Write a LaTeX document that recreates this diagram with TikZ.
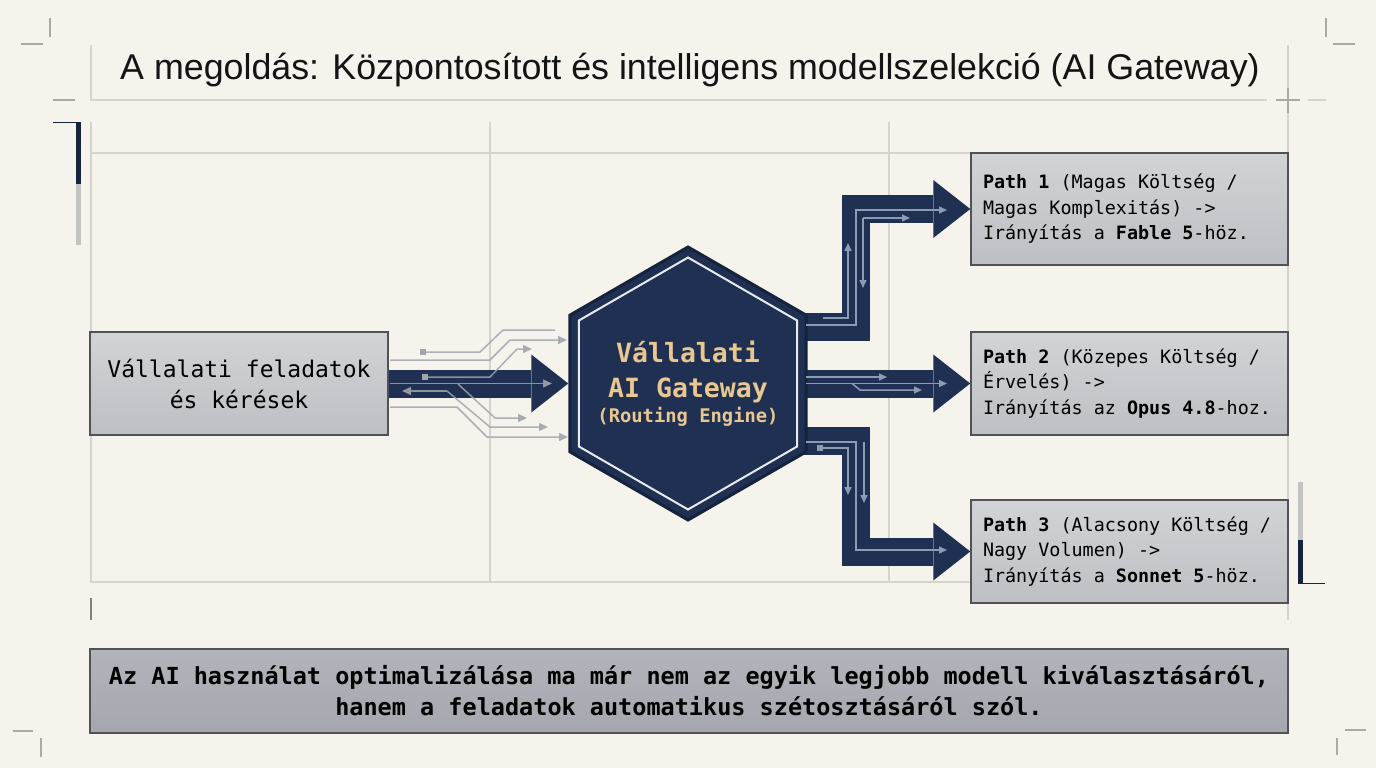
\documentclass[tikz,border=0pt]{standalone}
\usepackage{fontspec}
\setmainfont{Liberation Sans}
\setmonofont{DejaVu Sans Mono}
\usetikzlibrary{arrows.meta,shapes.geometric,calc}
\definecolor{paper}{HTML}{F5F3EC}
\definecolor{navy}{HTML}{1F3052}
\definecolor{navyedge}{HTML}{16233C}
\definecolor{sand}{HTML}{E8C890}
\definecolor{boxtop}{HTML}{D2D3D7}
\definecolor{boxbot}{HTML}{BDBFC4}
\definecolor{notetop}{HTML}{B1B4BA}
\definecolor{notebot}{HTML}{A4A7AE}
\definecolor{boxedge}{HTML}{505256}
\definecolor{gridc}{HTML}{D5D3CE}
\definecolor{markc}{HTML}{A9A9A6}
\definecolor{tracec}{HTML}{8D9CB4}
\definecolor{streamc}{HTML}{A0A4AC}

\begin{document}
\begin{tikzpicture}[x=1pt, y=-1pt,
  box/.style={
    draw=boxedge, line width=1.5pt, rectangle,
    top color=boxtop, bottom color=boxbot,
    inner xsep=14pt, inner ysep=0pt
  },
  pathbox/.style={
    box, inner xsep=12pt, minimum height=103pt, text width=293pt, align=flush left,
    font=\ttfamily\fontsize{18.4}{25.5}\selectfont
  },
  gateway/.style={
    regular polygon, regular polygon sides=6, shape border rotate=30,
    inner sep=0pt
  },
  flow/.style={
    draw=navy, line width=28pt, line join=miter,
    -{Triangle[length=37pt, width=58pt, line width=0pt]}
  },
  trace/.style={draw=tracec, line width=1.5pt, -{Triangle[length=8pt, width=7pt]}},
  stream/.style={draw=streamc, line width=1.5pt, opacity=0.85,
    -{Triangle[length=9pt, width=8pt]}},
  gridline/.style={draw=gridc, line width=1.2pt},
  tick/.style={draw=markc, line width=1.2pt},
]
\useasboundingbox (0,0) rectangle (1376,768);
\fill[paper] (0,0) rectangle (1376,768);

\draw[gridline] (91,45) -- (91,100) -- (1267,100);
\draw[gridline] (1288,45) -- (1288,620);
\draw[gridline] (91,122) -- (91,582) -- (971,582);
\draw[gridline] (91,153) -- (971,153);
\draw[gridline] (490,122) -- (490,582);
\draw[gridline] (889,122) -- (889,582);

\draw[tick] (50,18) -- (50,37);
\draw[tick] (21,44) -- (43,44);
\draw[tick] (53,100) -- (75,100);
\draw[tick] (1326,18) -- (1326,37);
\draw[tick] (1333,44) -- (1355,44);
\draw[tick] (1276,100) -- (1300,100);
\draw[tick] (1288,88) -- (1288,113);
\draw[gridline] (1308,100) -- (1326,100);
\draw[tick] (13,731) -- (33,731);
\draw[tick] (41,738) -- (41,757);
\draw[tick] (1345,730) -- (1366,730);
\draw[tick] (1337,738) -- (1337,755);
\draw[draw=gray, line width=1.5pt] (91,598) -- (91,620);

\draw[draw=navyedge, line width=1pt] (53,122) -- (80,122);
\fill[navyedge] (76,122) rectangle (81,184);
\fill[markc!70] (76,184) rectangle (81,245);
\fill[markc!70] (1298,482) rectangle (1303,540);
\fill[navyedge] (1298,540) rectangle (1303,583);
\draw[draw=navyedge, line width=1pt] (1298,583) -- (1325,583);

\node[font=\fontsize{35.8}{42}\selectfont, text=black!92] (title) at (690,70)
  {A megoldás: Központosított és intelligens modellszelekció (AI Gateway)};

\node[box, minimum width=298pt, minimum height=103pt, align=center,
  font=\ttfamily\fontsize{23}{31}\selectfont] (req) at (239,383.5)
  {Vállalati feladatok\\és kérések};
\node[pathbox, minimum height=112pt] (p1) at (1129.5,209)
  {\textbf{Path 1} (Magas Költség /\\Magas Komplexitás) ->\\Irányítás a \textbf{Fable 5}-höz.};
\node[pathbox] (p2) at (1129.5,383.5)
  {\textbf{Path 2} (Közepes Költség /\\Érvelés) ->\\Irányítás az \textbf{Opus 4.8}-hoz.};
\node[pathbox] (p3) at (1129.5,551.5)
  {\textbf{Path 3} (Alacsony Költség /\\Nagy Volumen) ->\\Irányítás a \textbf{Sonnet 5}-höz.};
\node[box, top color=notetop, bottom color=notebot, minimum width=1198pt,
  minimum height=84pt, align=center,
  font=\ttfamily\bfseries\fontsize{23.5}{31}\selectfont] (note) at (689,691)
  {Az AI használat optimalizálása ma már nem az egyik legjobb modell kiválasztásáról,\\
   hanem a feladatok automatikus szétosztásáról szól.};

\coordinate (gw) at (688,383.5);
\draw[flow] ($(gw)+(0,-57)$) -| ($(p1.west)+(-114,0)$) -- (p1.west);
\draw[flow] (gw) -- (p2.west);
\draw[flow] ($(gw)+(0,57)$) -| ($(p3.west)+(-114,0)$) -- (p3.west);

\node[gateway, fill=navy, draw=navyedge, line width=3pt, minimum size=273pt] (hex) at (gw) {};
\node[gateway, draw=white!90!navy, line width=2pt, minimum size=252pt] (hexrim) at (gw) {};
\node[align=center, text=sand, font=\ttfamily\bfseries\fontsize{26.5}{35}\selectfont]
  (gwtext) at (gw)
  {Vállalati\\AI Gateway\\[-10pt]{\fontsize{18.8}{25}\selectfont(Routing Engine)}};

\draw[flow] (req.east) -- (hex.west);

\draw[stream, -] (423,352) -- (480,352) -- (503,330) -- (555,330);
\draw[stream] (390,360) -- (490,360) -- (510,340) -- (567,340);
\draw[stream] (425,377) -- (490,377) -- (517,349) -- (532,349);
\draw[stream] (390,383.5) -- (552,383.5);
\draw[stream] (447,391) -- (402,391);
\draw[stream] (447,391) -- (490,427) -- (548,427);
\draw[stream] (458,384) -- (495,418) -- (527,418);
\draw[stream] (390,407) -- (457,407) -- (487,437) -- (568,437);
\fill[streamc] (420,349) rectangle (426,355);
\fill[streamc] (422,374) rectangle (428,380);

\draw[trace] (823,318) -- (848,318) -- (848,243);
\draw[trace] (806,325) -- (856,325) -- (856,210) -- (947,210);
\draw[trace] (863,218) -- (910,218);
\draw[trace] (863,218) -- (863,288);
\draw[trace] (806,377) -- (887,377);
\draw[trace] (806,383.5) -- (947,383.5);
\draw[trace] (852,383.5) -- (860,390) -- (922,390);
\draw[trace] (806,442) -- (856,442) -- (856,550) -- (947,550);
\draw[trace] (820,448) -- (848,448) -- (848,495);
\draw[trace] (864,442) -- (864,503);
\fill[tracec] (817,445) rectangle (823,451);
\end{tikzpicture}
\end{document}
